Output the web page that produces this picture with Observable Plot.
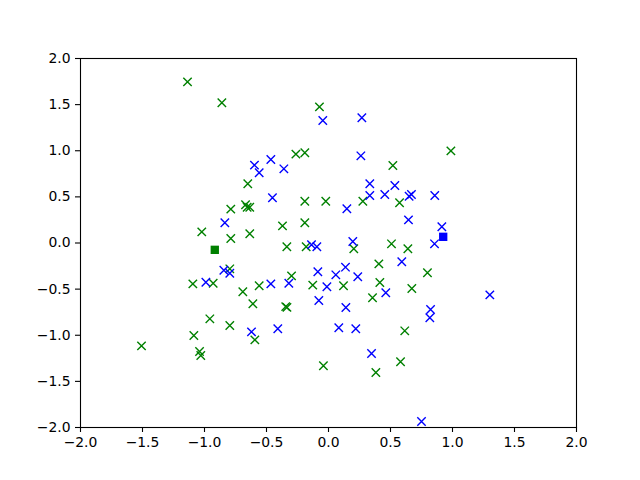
<!DOCTYPE html>
<html>
<head>
<meta charset="utf-8">
<script src="https://cdn.jsdelivr.net/npm/d3@7"></script>
<script src="https://cdn.jsdelivr.net/npm/@observablehq/plot@0.6"></script>
<style>
  html, body { margin: 0; padding: 0; background: white; }
</style>
</head>
<body>
<div id="chart"></div>
<script>
const greenX = [-1.137,-0.860,-0.073,-0.263,-0.191,-0.651,-0.191,-0.022,-0.788,-0.669,-0.656,-0.635,-1.022,-0.788,-0.635,-0.371,-0.191,0.987,0.519,0.277,0.573,-0.336,-0.180,-0.796,-1.094,-0.930,-0.691,-0.559,-0.298,-0.127,-0.610,-0.345,-0.335,-0.957,-0.796,-1.086,-0.594,-1.508,-1.040,-1.030,-0.041,0.204,0.508,0.640,0.406,0.798,0.121,0.414,0.355,0.672,0.615,0.581,0.382];
const greenY = [1.747,1.520,1.476,0.963,0.978,0.642,0.453,0.453,0.367,0.414,0.388,0.388,0.121,0.049,0.100,0.186,0.219,0.999,0.840,0.453,0.436,-0.041,-0.041,-0.280,-0.443,-0.436,-0.529,-0.464,-0.356,-0.457,-0.659,-0.690,-0.698,-0.822,-0.894,-1.003,-1.050,-1.115,-1.176,-1.220,-1.331,-0.063,-0.009,-0.063,-0.226,-0.323,-0.464,-0.428,-0.594,-0.493,-0.952,-1.288,-1.404];
const blueX = [-0.046,-0.597,-0.465,-0.559,-0.360,-0.452,-0.836,0.269,0.261,0.333,0.535,0.333,0.454,0.650,0.669,0.857,0.148,0.645,0.914,-0.137,-0.094,-0.844,-0.796,-0.989,-0.465,-0.320,-0.086,-0.013,-0.078,-0.621,-0.409,0.196,0.855,0.591,0.137,0.059,0.236,0.462,1.301,0.140,0.823,0.817,0.083,0.220,0.347,0.750];
const blueY = [1.328,0.844,0.905,0.761,0.804,0.490,0.219,1.357,0.945,0.642,0.623,0.515,0.526,0.507,0.526,0.515,0.371,0.251,0.176,-0.019,-0.041,-0.295,-0.328,-0.425,-0.443,-0.436,-0.312,-0.475,-0.623,-0.963,-0.930,0.016,-0.009,-0.204,-0.262,-0.345,-0.366,-0.540,-0.562,-0.699,-0.721,-0.811,-0.919,-0.930,-1.198,-1.935];
const centroidX = [-0.917, 0.925];
const centroidY = [-0.074, 0.067];
const centroidColor = ["green", "blue"];
const xTicks = [-2,-1.5,-1,-0.5,0,0.5,1,1.5,2];
const yTicks = [-2,-1.5,-1,-0.5,0,0.5,1,1.5,2];

const colors = {green: "#008000", blue: "#0000ff"};
const green = greenX.map((x, i) => ({x, y: greenY[i]}));
const blue = blueX.map((x, i) => ({x, y: blueY[i]}));
const cents = centroidX.map((x, i) => ({x, y: centroidY[i], c: centroidColor[i]}));
const fmt = d => d.toFixed(1).replace("-", "\u2212");

const chart = Plot.plot({
  width: 640,
  height: 480,
  marginLeft: 80,
  marginRight: 64,
  marginTop: 58,
  marginBottom: 53,
  style: "font-family: 'DejaVu Sans'; font-size: 13.9px; background: white; overflow: visible;",
  x: {domain: [-2, 2]},
  y: {domain: [-2, 2]},
  marks: [
    Plot.dot(green, {x: "x", y: "y", symbol: "times", r: 3.9, stroke: colors.green, strokeWidth: 1.4}),
    Plot.dot(blue, {x: "x", y: "y", symbol: "times", r: 3.9, stroke: colors.blue, strokeWidth: 1.4}),
    Plot.dot(cents, {x: "x", y: "y", symbol: "square", r: 4.7, fill: d => colors[d.c], stroke: null}),
    Plot.frame({stroke: "black", strokeWidth: 1.1}),
    Plot.axisX({ticks: xTicks, tickFormat: fmt, tickSize: 5, tickPadding: 5, label: null, stroke: "black", strokeWidth: 1.1, fill: "black", fontSize: 13.9}),
    Plot.axisY({ticks: yTicks, tickFormat: fmt, tickSize: 5, tickPadding: 5, label: null, stroke: "black", strokeWidth: 1.1, fill: "black", fontSize: 13.9})
  ]
});
document.getElementById("chart").appendChild(chart);
</script>
</body>
</html>
